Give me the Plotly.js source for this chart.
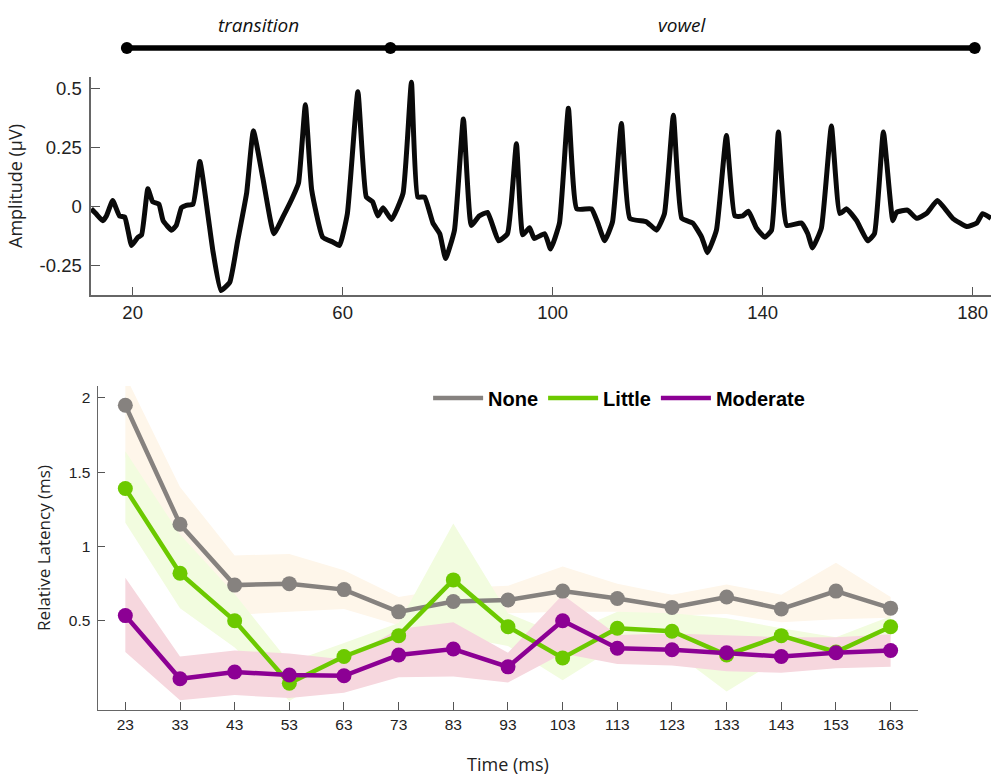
<!DOCTYPE html>
<html>
<head>
<meta charset="utf-8">
<script src="https://cdn.plot.ly/plotly-3.0.1.min.js"></script>
<style>html,body{margin:0;padding:0;background:#fff;}#chart{width:991px;height:776px;}</style>
</head>
<body>
<div id="chart"></div>
<script>
// ---------- Top panel: response waveform ----------
var waveTime = [12.1,13.0,14.3,15.0,16.2,17.5,18.5,19.8,21.0,21.7,22.9,23.8,25.0,25.8,27.4,28.3,29.3,30.2,31.5,32.8,34.3,35.3,36.8,38.5,40.0,41.7,43.0,44.8,46.9,48.6,50.5,51.6,52.9,54.1,56.2,58.1,59.4,60.9,62.9,64.5,65.7,66.7,67.7,69.3,71.5,73.1,74.3,75.6,77.2,78.5,79.6,81.3,83.0,84.5,86.0,87.6,89.7,91.4,93.1,94.3,95.6,96.5,98.5,99.6,101.3,103.0,104.6,107.4,108.6,109.9,111.4,113.1,114.7,117.9,119.8,121.3,123.0,124.6,126.7,128.4,129.5,131.2,133.1,134.7,136.2,137.3,138.8,140.4,141.7,143.0,144.6,147.4,148.6,149.5,151.2,153.1,154.7,156.0,157.9,160.0,161.3,163.0,164.8,165.5,167.6,169.3,171.2,173.3,176.2,178.9,180.8,181.9,183.5];
var waveAmp = [-0.01,-0.03,-0.06,-0.04,0.025,-0.04,-0.045,-0.165,-0.13,-0.12,0.075,0.02,0.01,-0.06,-0.10,-0.08,-0.005,0.005,0.01,0.19,-0.03,-0.19,-0.355,-0.32,-0.145,0.055,0.32,0.12,-0.115,-0.045,0.04,0.10,0.43,0.07,-0.13,-0.15,-0.165,-0.03,0.485,0.04,0.02,-0.04,-0.005,-0.055,0.055,0.525,0.04,0.04,-0.07,-0.115,-0.22,-0.10,0.37,-0.08,-0.04,-0.025,-0.145,-0.115,0.265,-0.12,-0.09,-0.135,-0.115,-0.18,-0.07,0.415,-0.01,-0.01,-0.07,-0.145,-0.065,0.35,-0.05,-0.065,-0.10,-0.03,0.385,-0.05,-0.07,-0.13,-0.195,-0.10,0.30,-0.04,-0.04,-0.02,-0.09,-0.13,-0.10,0.315,-0.08,-0.07,-0.115,-0.175,-0.09,0.34,-0.03,-0.01,-0.06,-0.145,-0.115,0.315,-0.06,-0.025,-0.015,-0.05,-0.03,0.025,-0.05,-0.085,-0.07,-0.03,-0.05];
var topTickVals = [20,60,100,140,180];
var ampTickVals = [-0.25,0,0.25,0.5];
var ampTickText = ['-0.25','0','0.25','0.5'];

// stimulus segments
var segmentBounds = [18.9, 69.1, 180.4];
var segmentLabels = ['transition','vowel'];

// ---------- Bottom panel: relative latency ----------
var latTime = [23,33,43,53,63,73,83,93,103,113,123,133,143,153,163];
var seriesNames = ['None','Little','Moderate'];
var noneMean  = [1.95,1.15,0.74,0.75,0.71,0.56,0.63,0.64,0.70,0.65,0.59,0.66,0.58,0.70,0.585];
var noneUpper = [2.15,1.40,0.94,0.95,0.84,0.66,0.72,0.735,0.865,0.75,0.675,0.745,0.675,0.89,0.66];
var noneLower = [1.60,0.95,0.54,0.56,0.58,0.47,0.53,0.55,0.56,0.56,0.535,0.545,0.49,0.51,0.52];
var littleMean  = [1.39,0.82,0.50,0.08,0.26,0.40,0.775,0.46,0.25,0.45,0.43,0.27,0.40,0.29,0.46];
var littleUpper = [1.64,1.08,0.68,0.22,0.35,0.485,1.155,0.55,0.40,0.56,0.55,0.517,0.45,0.39,0.53];
var littleLower = [1.16,0.585,0.32,-0.04,0.18,0.32,0.40,0.33,0.10,0.33,0.30,0.025,0.25,0.20,0.38];
var modMean  = [0.535,0.11,0.155,0.135,0.13,0.27,0.31,0.19,0.50,0.315,0.305,0.285,0.26,0.285,0.30];
var modUpper = [0.79,0.26,0.30,0.28,0.24,0.445,0.49,0.285,0.675,0.405,0.415,0.405,0.39,0.39,0.41];
var modLower = [0.29,-0.035,0.0,-0.02,0.015,0.12,0.125,0.085,0.28,0.21,0.20,0.16,0.15,0.18,0.19];
var latTickVals = [0.5,1,1.5,2];
var latTickText = ['0.5','1','1.5','2'];

var lineColors = ['#86827f','#6cc900','#8c0094'];
var bandColors = ['#fef6ea','#f2fcdf','#f6d7de'];

var means = [noneMean, littleMean, modMean];
var uppers = [noneUpper, littleUpper, modUpper];
var lowers = [noneLower, littleLower, modLower];

var traces = [];

// timeline bar
traces.push({
  x: segmentBounds, y: segmentBounds.map(function(){return 0.5;}),
  xaxis: 'x', yaxis: 'y3', mode: 'lines+markers', showlegend: false, hoverinfo: 'skip',
  line: {color: '#000', width: 5.5}, marker: {color: '#000', size: 12}, cliponaxis: false
});

// waveform
traces.push({
  x: waveTime, y: waveAmp, xaxis: 'x', yaxis: 'y', mode: 'lines', showlegend: false,
  line: {color: '#0a0a0a', width: 5, shape: 'spline', smoothing: 0.4}
});

// bands (drawn first, in order)
for (var i = 0; i < 3; i++) {
  var bx = latTime.concat(latTime.slice().reverse());
  var by = uppers[i].concat(lowers[i].slice().reverse());
  traces.push({
    x: bx, y: by, xaxis: 'x2', yaxis: 'y2', mode: 'lines', fill: 'toself',
    fillcolor: bandColors[i], line: {width: 0, color: bandColors[i]},
    showlegend: false, hoverinfo: 'skip'
  });
}
// lines + markers
for (var j = 0; j < 3; j++) {
  traces.push({
    x: latTime, y: means[j], xaxis: 'x2', yaxis: 'y2', mode: 'lines', name: seriesNames[j],
    line: {color: lineColors[j], width: 4.5}, showlegend: true
  });
  traces.push({
    x: latTime, y: means[j], xaxis: 'x2', yaxis: 'y2', mode: 'markers', name: seriesNames[j],
    marker: {color: lineColors[j], size: 15}, showlegend: false, cliponaxis: false
  });
}

var annotations = [];
for (var k = 0; k < segmentLabels.length; k++) {
  annotations.push({
    x: (segmentBounds[k] + segmentBounds[k+1]) / 2, xref: 'x',
    y: 0.9678, yref: 'paper', yanchor: 'middle', xanchor: 'center',
    text: segmentLabels[k], showarrow: false,
    font: {family: 'Open Sans', size: 19, style: 'italic', color: '#111'}
  });
}

var tickFontTop = {family: 'Liberation Sans', size: 18.5, color: '#222'};
var tickFontBot = {family: 'Liberation Sans', size: 15.5, color: '#222'};

var layout = {
  width: 991, height: 776,
  margin: {l: 0, r: 0, t: 0, b: 0},
  paper_bgcolor: '#fff', plot_bgcolor: 'rgba(0,0,0,0)',
  showlegend: true,
  legend: {
    orientation: 'h', x: 0.432, y: 0.487, xanchor: 'left', yanchor: 'middle',
    font: {family: 'Liberation Sans', size: 20, weight: 'bold', color: '#000'},
    bgcolor: 'rgba(0,0,0,0)', itemwidth: 50, tracegroupgap: 0
  },
  xaxis: {
    domain: [0.0918, 1], anchor: 'y', range: [12.06, 183.5],
    tickmode: 'array', tickvals: topTickVals, ticks: 'inside', ticklen: 8,
    tickcolor: '#555', showline: true, linecolor: '#666', linewidth: 1.5,
    showgrid: false, zeroline: false, tickfont: tickFontTop
  },
  yaxis: {
    domain: [0.6198, 0.9008], anchor: 'x', range: [-0.374, 0.547],
    tickmode: 'array', tickvals: ampTickVals, ticktext: ampTickText,
    ticks: 'inside', ticklen: 9, tickcolor: '#555', showline: true, linecolor: '#666', linewidth: 1.5,
    showgrid: false, zeroline: false, tickfont: tickFontTop, ticklabelstandoff: 4,
    title: {text: 'Amplitude (µV)', font: {family: 'Open Sans', size: 18, color: '#222'}, standoff: 12}
  },
  yaxis3: {
    domain: [0.898, 0.978], anchor: 'x', range: [0, 1], visible: false, fixedrange: true
  },
  xaxis2: {
    domain: [0.0989, 0.9263], anchor: 'y2', range: [18, 168],
    tickmode: 'array', tickvals: latTime, ticks: 'inside', ticklen: 8,
    tickcolor: '#555', showline: true, linecolor: '#666', linewidth: 1.5,
    showgrid: false, zeroline: false, tickfont: tickFontBot,
    title: {text: 'Time (ms)', font: {family: 'Open Sans', size: 18, color: '#222'}, standoff: 26}
  },
  yaxis2: {
    domain: [0.0851, 0.5026], anchor: 'x2', range: [-0.1, 2.08],
    tickmode: 'array', tickvals: latTickVals, ticktext: latTickText,
    ticks: 'inside', ticklen: 7, tickcolor: '#555', showline: true, linecolor: '#666', linewidth: 1.5,
    showgrid: false, zeroline: false, tickfont: tickFontBot, ticklabelstandoff: 3,
    title: {text: 'Relative Latency (ms)', font: {family: 'Open Sans', size: 17, color: '#222'}, standoff: 14}
  },
  annotations: annotations
};

Plotly.newPlot('chart', traces, layout, {displayModeBar: false, staticPlot: true});
</script>
</body>
</html>
